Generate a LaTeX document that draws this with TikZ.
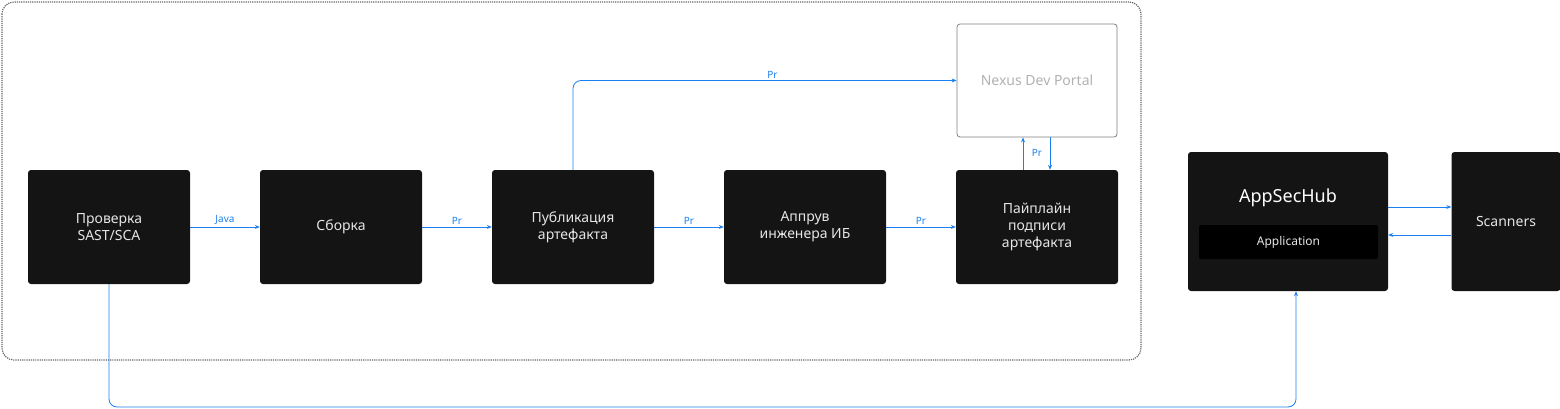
\documentclass[tikz,border=0pt]{standalone}
\usepackage{fontspec}
\setmainfont{Noto Sans}
\usetikzlibrary{positioning,calc,arrows.meta}
\definecolor{boxfill}{HTML}{141414}
\definecolor{flowblue}{HTML}{1A7FF0}
\begin{document}
\begin{tikzpicture}[
  x=1pt,y=-1pt,
  every node/.style={font=\fontsize{14}{17}\selectfont},
  stage/.style={draw=none,fill=boxfill,rounded corners=3pt,text=white!90!black,
    minimum width=162,minimum height=114,align=center,inner sep=0pt},
  portal/.style={draw=gray,line width=0.8pt,fill=white,rounded corners=3pt,text=gray!60,
    minimum width=160,minimum height=113,inner sep=0pt},
  flow/.style={draw=flowblue,-{Stealth[length=5pt,width=4pt]},line width=0.8pt},
  tag/.style={font=\fontsize{10}{12}\selectfont,text=flowblue,inner sep=2pt},
  ]
  \useasboundingbox (0,0) rectangle (1560,409);
  \draw [densely dotted,line width=1.2pt,gray!80!black,rounded corners=12pt]
    (2,2) rectangle (1141,360);

  \node [stage] (check) at (109,227) {Проверка\\SAST/SCA};
  \node [stage] (build) at (341,227) {Сборка};
  \node [stage] (publish) at (573,227) {Публикация\\артефакта};
  \node [stage] (approve) at (805,227) {Аппрув\\инженера ИБ};
  \node [stage] (sign) at (1037,227) {Пайплайн\\подписи\\артефакта};
  \node [portal] (nexus) at (1037,80.5) {Nexus Dev Portal};

  \node [stage,minimum width=200,minimum height=139] (hub) at (1288,221.5) {};
  \node [font=\fontsize{18}{21}\selectfont,text=white] (hub-title) at (1288,198) {AppSecHub};
  \node [fill=black,text=white!90!black,minimum width=179,minimum height=34,inner sep=0pt,
    rounded corners=2pt,font=\fontsize{12}{14}\selectfont] (app) at (1288.5,242) {Application};
  \node [stage,minimum width=109,minimum height=139] (scan) at (1506,221.5) {Scanners};

  \draw [flow] (check) -- node [tag,above] {Java} (build);
  \draw [flow] (build) -- node [tag,above] {Pr} (publish);
  \draw [flow] (publish) -- node [tag,above] {Pr} (approve);
  \draw [flow] (approve) -- node [tag,above] {Pr} (sign);
  \draw [flow,rounded corners=8pt] (publish.north) |- node [tag,above,pos=0.76] {Pr} (nexus.west);
  \draw [flow] (sign.north -| 1023,0) -- (nexus.south -| 1023,0);
  \draw [flow] (nexus.south -| 1050,0) -- (sign.north -| 1050,0);
  \node [tag] (pr-up) at (1037,153) {Pr};
  \draw [flow] (hub.east |- 0,207) -- (scan.west |- 0,207);
  \draw [flow] (scan.west |- 0,235) -- (hub.east |- 0,235);
  \draw [flow,rounded corners=8pt] (check.south) |- (1296,407) -- (hub.south -| 1296,0);
\end{tikzpicture}
\end{document}
